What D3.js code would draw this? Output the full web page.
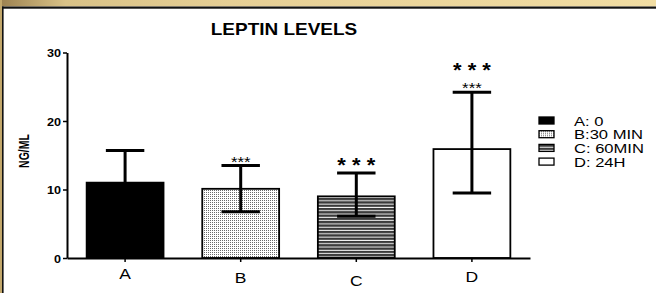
<!DOCTYPE html>
<html>
<head>
<meta charset="utf-8">
<style>
body { margin: 0; background: #fff; }
text { font-family: 'Liberation Sans', Arial, sans-serif; fill: #000; }
</style>
</head>
<body>
<div id="diagram"></div>
<script src="https://d3js.org/d3.v7.min.js"></script>
<script>

var categories = [ 'A', 'B', 'C', 'D' ];
var legend_labels = [ 'A: 0', 'B:30 MIN', 'C: 60MIN', 'D: 24H' ];
var means = [ 11.0, 10.1, 9.0, 15.9 ];
var err_high = [ 15.7, 13.5, 12.4, 24.2 ];
var err_low = [ 6.3, 6.75, 6.1, 9.5 ];
var y_ticks = [ 0, 10, 20, 30 ];
var stars_small = [ '', '***', '', '***' ];
var stars_large = [ '', '', '* * *', '* * *' ];

var canvas_size = { width: 656, height: 293 };
var fills = [ '#000', 'url(#dots)', 'url(#stripes)', '#fff' ];
var label_drop = [ 0, 4, 7, 3 ];   // x labels sit a bit unevenly in the original

var svg = d3.select( '#diagram' )
	.append( 'svg' )
		.attr( 'width', canvas_size.width )
		.attr( 'height', canvas_size.height );

// patterns
var defs = svg.append( 'defs' );

var grad = defs.append( 'linearGradient' ).attr( 'id', 'gold' );
grad.append( 'stop' ).attr( 'offset', '0%' ).attr( 'stop-color', '#9c8150' );
grad.append( 'stop' ).attr( 'offset', '10%' ).attr( 'stop-color', '#d9c287' );
grad.append( 'stop' ).attr( 'offset', '35%' ).attr( 'stop-color', '#e6cf95' );
grad.append( 'stop' ).attr( 'offset', '100%' ).attr( 'stop-color', '#f1dda3' );

var dots = defs.append( 'pattern' )
	.attr( 'id', 'dots' )
	.attr( 'patternUnits', 'userSpaceOnUse' )
	.attr( 'width', 2 ).attr( 'height', 2 );
dots.append( 'rect' ).attr( 'width', 2 ).attr( 'height', 2 ).attr( 'fill', '#fff' );
dots.append( 'rect' ).attr( 'width', 1 ).attr( 'height', 1 ).attr( 'fill', '#6a6a6a' );

var stripes = defs.append( 'pattern' )
	.attr( 'id', 'stripes' )
	.attr( 'patternUnits', 'userSpaceOnUse' )
	.attr( 'width', 4 ).attr( 'height', 3.3 );
stripes.append( 'rect' ).attr( 'width', 4 ).attr( 'height', 3.3 ).attr( 'fill', '#f4f4f4' );
stripes.append( 'rect' ).attr( 'width', 4 ).attr( 'height', 2.3 ).attr( 'fill', '#3a3a3a' );

// frame
svg.append( 'rect' ).attr( 'x', 0 ).attr( 'y', 0 ).attr( 'width', 656 ).attr( 'height', 6.5 ).attr( 'fill', 'url(#gold)' );
svg.append( 'rect' ).attr( 'x', 0 ).attr( 'y', 0 ).attr( 'width', 2 ).attr( 'height', 293 ).attr( 'fill', '#c3a86c' );
svg.append( 'rect' ).attr( 'x', 2 ).attr( 'y', 6.5 ).attr( 'width', 654 ).attr( 'height', 2.2 ).attr( 'fill', '#111' );
svg.append( 'rect' ).attr( 'x', 2 ).attr( 'y', 6.5 ).attr( 'width', 1.6 ).attr( 'height', 287 ).attr( 'fill', '#111' );

// scales
var x = d3.scaleBand()
	.domain( categories )
	.range( [ 67, 530 ] )
	.paddingInner( 0.335 )
	.paddingOuter( 0.17 );

var y = d3.scaleLinear()
	.domain( [ 0, 30 ] )
	.range( [ 258, 52.5 ] );

// title
svg.append( 'text' )
	.attr( 'transform', 'translate(284,35) scale(1.15,1)' )
	.attr( 'text-anchor', 'middle' )
	.style( 'font-size', '16.5px' )
	.style( 'font-weight', 'bold' )
	.text( 'LEPTIN LEVELS' );

// bars
var bar_g = svg.append( 'g' );
bar_g.selectAll( 'rect' )
	.data( means )
	.enter().append( 'rect' )
		.attr( 'x', function( d, i ) { return x( categories[i] ); } )
		.attr( 'y', function( d ) { return y( d ); } )
		.attr( 'width', x.bandwidth() )
		.attr( 'height', function( d ) { return y( 0 ) - y( d ); } )
		.attr( 'fill', function( d, i ) { return fills[i]; } )
		.attr( 'stroke', '#000' )
		.attr( 'stroke-width', 1.8 );

// error bars
var err_g = svg.append( 'g' ).attr( 'stroke', '#000' ).attr( 'stroke-width', 3 );
categories.forEach( function( c, i )
{
	var cx = x( c ) + x.bandwidth() / 2;
	var half = x.bandwidth() / 4;
	err_g.append( 'line' ).attr( 'x1', cx ).attr( 'x2', cx ).attr( 'y1', y( err_low[i] ) ).attr( 'y2', y( err_high[i] ) );
	err_g.append( 'line' ).attr( 'x1', cx - half ).attr( 'x2', cx + half ).attr( 'y1', y( err_high[i] ) ).attr( 'y2', y( err_high[i] ) );
	err_g.append( 'line' ).attr( 'x1', cx - half ).attr( 'x2', cx + half ).attr( 'y1', y( err_low[i] ) ).attr( 'y2', y( err_low[i] ) );

	if( stars_small[i] )
		svg.append( 'text' )
			.attr( 'transform', 'translate(' + cx + ',' + ( y( err_high[i] ) + 1 ) + ') scale(1.2,1)' )
			.attr( 'text-anchor', 'middle' )
			.style( 'font-size', '14px' )
			.text( stars_small[i] );

	if( stars_large[i] )
		svg.append( 'text' )
			.attr( 'transform', 'translate(' + cx + ',' + ( y( err_high[i] ) - 1 - ( stars_small[i] ? 14 : 0 ) ) + ') scale(1.1,1)' )
			.attr( 'text-anchor', 'middle' )
			.style( 'font-size', '20px' )
			.style( 'font-weight', 'bold' )
			.text( stars_large[i] );
} );

// axes
var y_axis = svg.append( 'g' )
	.attr( 'transform', 'translate(67,0)' )
	.call( d3.axisLeft( y ).tickValues( y_ticks ).tickSize( 4 ).tickSizeOuter( 0 ) );
y_axis.select( '.domain' ).attr( 'stroke-width', 2 );
y_axis.selectAll( '.tick line' ).attr( 'stroke-width', 1.5 );
y_axis.selectAll( '.tick text' )
	.attr( 'x', null ).attr( 'dy', null )
	.attr( 'transform', 'translate(-6,4) scale(1.2,1)' )
	.style( 'font-family', "'Liberation Sans', Arial, sans-serif" )
	.style( 'font-size', '10.5px' )
	.style( 'font-weight', 'bold' );

var x_axis = svg.append( 'g' )
	.attr( 'transform', 'translate(0,258)' )
	.call( d3.axisBottom( x ).tickSize( 4 ).tickSizeOuter( 0 ) );
x_axis.select( '.domain' ).attr( 'stroke-width', 2 );
x_axis.selectAll( '.tick line' ).attr( 'stroke-width', 1.5 );
x_axis.selectAll( '.tick text' )
	.attr( 'y', null ).attr( 'dy', null )
	.attr( 'transform', function( d, i ) { return 'translate(0,' + ( 21 + label_drop[i] ) + ') scale(1.25,1)'; } )
	.style( 'font-family', "'Liberation Sans', Arial, sans-serif" )
	.style( 'font-size', '14px' );

svg.append( 'text' )
	.attr( 'transform', 'translate(29,151) scale(1.35,1) rotate(-90)' )
	.attr( 'text-anchor', 'middle' )
	.style( 'font-size', '10.5px' )
	.style( 'font-weight', 'bold' )
	.text( 'NG/ML' );

// legend
var legend = svg.append( 'g' ).attr( 'transform', 'translate(539,117)' );
var rows = legend.selectAll( 'g' )
	.data( legend_labels )
	.enter().append( 'g' )
		.attr( 'transform', function( d, i ) { return 'translate(0,' + ( i * 13.7 ) + ')'; } );
rows.append( 'rect' )
	.attr( 'width', 15 ).attr( 'height', 7 )
	.attr( 'fill', function( d, i ) { return fills[i]; } )
	.attr( 'stroke', '#000' ).attr( 'stroke-width', 1.3 );
rows.append( 'text' )
	.attr( 'transform', 'translate(35,8.5) scale(1.38,1)' )
	.style( 'font-size', '12px' )
	.text( function( d ) { return d; } );

</script>
</body>
</html>
